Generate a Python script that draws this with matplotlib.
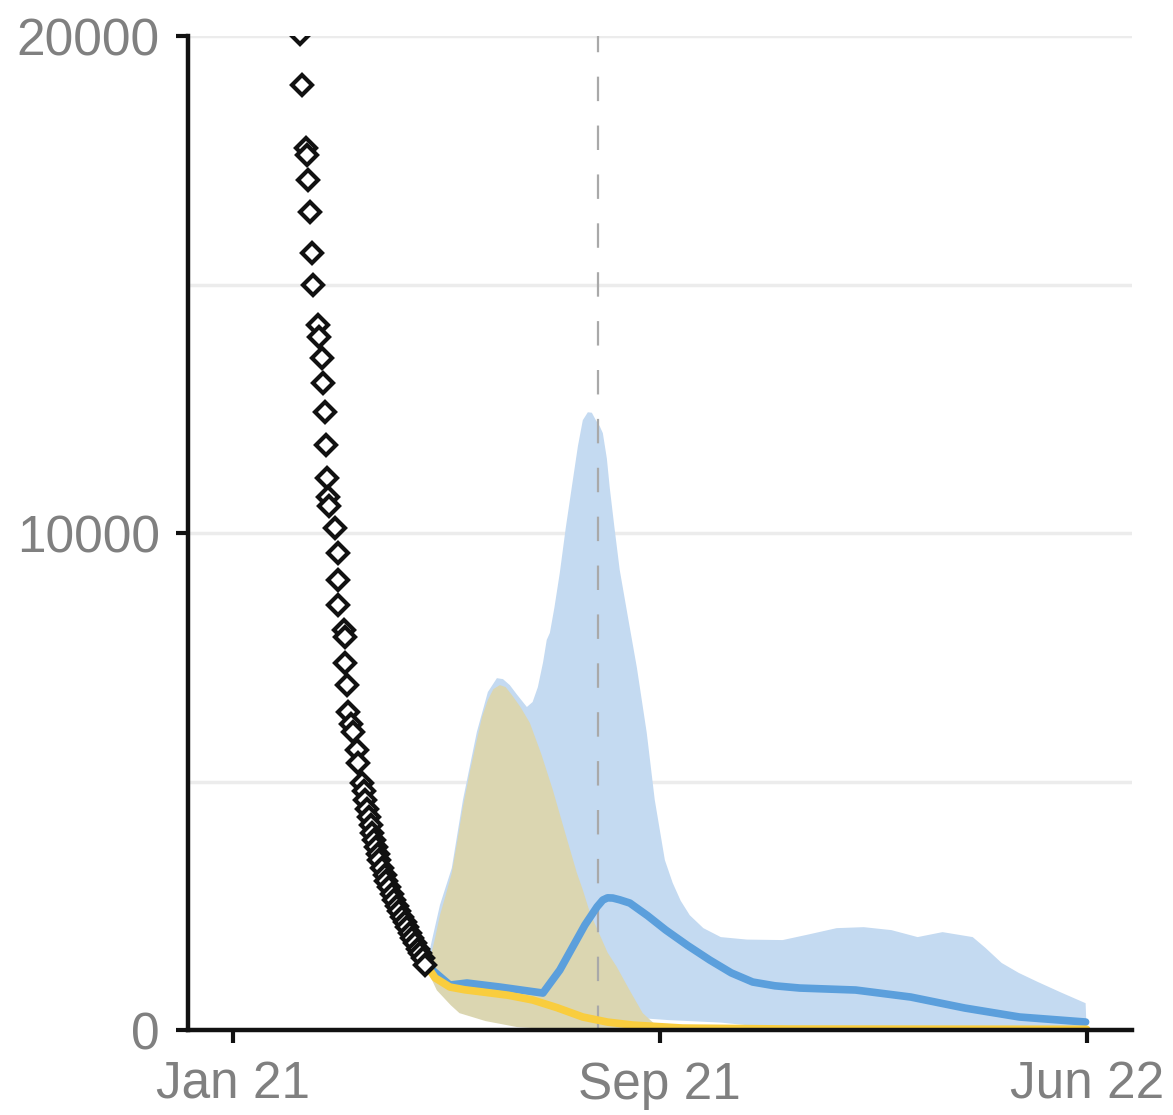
import numpy as np
import matplotlib
matplotlib.use('Agg')
from matplotlib import pyplot as plt

plt.rcParams['font.family'] = ['Liberation Sans', 'DejaVu Sans']

# x is days since 1 Jan 2021 (tick spacing as in the source chart)
obs_day = [38.4, 39.6, 41.9, 42.5, 43.0, 44.2, 45.3, 45.9, 48.8, 49.5, 51.0, 51.6,
           52.8, 53.4, 53.9, 54.5, 55.0, 58.5, 60.2, 60.2, 60.5, 63.5, 64.3, 64.5,
           65.4, 66.0, 67.5, 68.8, 71.1, 71.7, 74.0, 75, 76, 77, 78, 79, 80, 81, 82,
           83, 84, 85.5, 87, 88, 89.5, 91, 92.5, 94, 95.5, 97, 98.5, 100, 101.5,
           103, 104.5, 106, 107.5, 109, 110.3]
obs_val = [20050, 19010, 17750, 17600, 17100, 16460, 15630, 14990, 14180, 13950,
           13520, 13020, 12430, 11770, 11110, 10720, 10550, 10100, 9600, 9050, 8550,
           8050, 7900, 7380, 6940, 6400, 6150, 6000, 5630, 5370, 4970, 4800, 4620,
           4450, 4280, 4120, 3960, 3820, 3680, 3540, 3420, 3260, 3110, 3000, 2870,
           2740, 2620, 2500, 2390, 2280, 2180, 2080, 1960, 1850, 1750, 1640, 1540,
           1440, 1310]

# yellow scenario band and median
y_up_day = [111, 113, 116, 118.8, 122, 125.6, 129, 132.0, 136, 140.0, 143, 146.3,
            149.5, 153.2, 156.5, 160.1, 165, 170.4, 177, 183.6, 190, 197.4, 200.8,
            205, 210.6, 215, 220.3, 228, 235.2, 242.1, 250.7, 270, 490]
y_up_val = [1310, 1410, 1850, 2310, 2700, 3160, 3850, 4490, 5200, 5840, 6300, 6640,
            6860, 6940, 6900, 6740, 6500, 6180, 5550, 4830, 4050, 3160, 2820,
            2350, 1910, 1560, 1270, 780, 340, 120, 20, 10, 10]
y_lo_day = [111, 113, 117, 125, 130, 145, 163, 185, 250, 490]
y_lo_val = [1310, 1100, 800, 500, 340, 180, 60, 10, 0, 0]
y_med_day = [111, 116, 124.5, 133, 143.4, 158, 172.1, 186, 200.8, 215, 229.5, 258,
             320, 490]
y_med_val = [1310, 1050, 865, 810, 765, 700, 604, 450, 262, 160, 100, 40, 20, 15]

# blue scenario band and median
b_up_day = [111, 118.8, 125.6, 132.0, 140.0, 146.3, 151.5, 155, 158.9, 163, 168.7,
            172, 175.0, 178, 180.1, 181.9, 184.5, 187.6, 191, 195.1, 198, 200.8,
            203.7, 206, 208.3, 210.5, 212.3, 214.6, 216.3, 219, 222.0, 227, 231.8,
            237.5, 242.1, 247.9, 252.4, 257, 262.2, 270, 280.0, 295, 315.5, 330,
            346.5, 362, 378.0, 393.0, 407.3, 424.6, 432, 441.2, 451, 461.8, 475,
            489.4]
b_up_val = [1310, 2515, 3260, 4630, 6000, 6800, 7080, 7060, 6940, 6750, 6500,
            6600, 6900, 7400, 7850, 7990, 8500, 9200, 10100, 11070, 11750, 12270,
            12430, 12420, 12270, 12150, 12010, 11500, 10900, 10100, 9255, 8250, 7300,
            5980, 4630, 3420, 2960, 2600, 2310, 2050, 1870, 1820, 1810, 1920,
            2050, 2070, 2010, 1870, 1970, 1870, 1650, 1350, 1150, 970, 760,
            540]
b_lo_day = [111, 115, 125, 140, 170, 200, 230, 250, 280, 300, 330, 400, 490]
b_lo_val = [1310, 1000, 700, 500, 350, 300, 250, 200, 150, 80, 30, 10, 0]
b_med_day = [111, 124.5, 134.3, 153.2, 177.9, 187.6, 202.0, 209, 212.3, 215, 218.0,
             222, 227.8, 238, 248.4, 261, 273.7, 286, 298.3, 311, 325.3, 357.4, 389.0,
             420.0, 451.5, 489.4]
b_med_val = [1310, 905, 946, 865, 744, 1207, 2113, 2480, 2616, 2660, 2656,
             2620, 2555, 2300, 2012, 1700, 1408, 1150, 966, 890, 845, 805, 664,
             443, 262, 161]

vline_day = 209.4
grid_vals = [5000, 10000, 15000, 20000]
tick_days = [0, 245, 490]
tick_labels = ['Jan 21', 'Sep 21', 'Jun 22']

fig = plt.figure(figsize=(11.73, 11.15), dpi=100)
ax = fig.add_axes([0.160, 0.0762, 0.805, 0.8915])

for g in grid_vals:
    ax.axhline(g, color='#ececec', lw=2.5, zorder=0)

# bands drawn as closed polygons: upper edge out, lower edge back
ax.fill(b_up_day + b_lo_day[::-1], b_up_val + b_lo_val[::-1],
        color='#c4daf1', lw=0, zorder=1)
ax.fill(y_up_day + y_lo_day[::-1], y_up_val + y_lo_val[::-1],
        color='#dbd6b1', lw=0, zorder=2)

ax.axvline(vline_day, color='#a9a9a9', lw=1.6, ls=(0, (11, 11)), zorder=3)

ax.plot(b_med_day, b_med_val, color='#5b9fdc', lw=5.5, solid_capstyle='round',
        solid_joinstyle='round', zorder=4)
ax.plot(y_med_day, y_med_val, color='#f9cd3e', lw=5.5, solid_capstyle='round',
        solid_joinstyle='round', zorder=5)

ax.plot(obs_day, obs_val, ls='none', marker='D', ms=10, mfc='white',
        mec='#111111', mew=3, zorder=6)

ax.set_xlim(-26, 516)
ax.set_ylim(0, 20000)
ax.set_xticks(tick_days)
ax.set_xticklabels(tick_labels)
ax.set_yticks([0, 10000, 20000])
ax.set_yticklabels(['0', '10000', '20000'])

for s in ['top', 'right']:
    ax.spines[s].set_visible(False)
for s in ['left', 'bottom']:
    ax.spines[s].set_linewidth(3.2)
    ax.spines[s].set_color('#111111')
    ax.spines[s].set_zorder(7)

ax.tick_params(axis='both', length=9, width=3, color='#111111',
               labelsize=37, labelcolor='#808080')
ax.tick_params(axis='y', pad=11)
ax.tick_params(axis='x', pad=13)

fig.savefig('out.png', dpi=100)
